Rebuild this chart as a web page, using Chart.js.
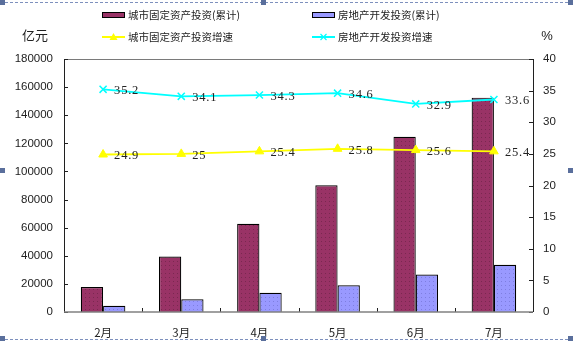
<!DOCTYPE html>
<html>
<head>
<meta charset="utf-8">
<script src="https://cdn.jsdelivr.net/npm/chart.js@4"></script>
<style>
  html, body { margin: 0; padding: 0; background: #ffffff; }
  #wrap { position: relative; width: 573px; height: 341px; }
  canvas { display: block; }
</style>
</head>
<body>
<div id="wrap"><canvas id="c" width="573" height="341"></canvas></div>
<script>
// 月份
const months = ['2月', '3月', '4月', '5月', '6月', '7月'];
// 累计投资额（亿元）
const cityInvest = [17800, 39500, 62700, 90200, 124700, 152500];
const estateInvest = [4500, 9000, 13700, 19000, 26600, 33600];
// 同比增速（%）
const cityGrowth = [24.9, 25, 25.4, 25.8, 25.6, 25.4];
const estateGrowth = [35.2, 34.1, 34.3, 34.6, 32.9, 33.6];
// 坐标轴刻度
const leftTicks = [0, 20000, 40000, 60000, 80000, 100000, 120000, 140000, 160000, 180000];
const rightTicks = [0, 5, 10, 15, 20, 25, 30, 35, 40];

const seriesNames = ['城市固定资产投资(累计)', '房地产开发投资(累计)', '城市固定资产投资增速', '房地产开发投资增速'];

// 带细点的柱体填充
function dotted(base, dot) {
  const p = document.createElement('canvas');
  p.width = 4; p.height = 4;
  const g = p.getContext('2d');
  g.fillStyle = base; g.fillRect(0, 0, 4, 4);
  g.fillStyle = dot; g.fillRect(1, 1, 1, 1);
  return g.createPattern(p, 'repeat');
}

const ctx0 = document.getElementById('c').getContext('2d');
const maroon = dotted('#993366', '#7a2850');
const lilac = dotted('#9999ff', '#7e7ee0');

const CJK = '"Noto Sans CJK SC", "Noto Sans", sans-serif';
const NUM = '"Liberation Sans", Arial, sans-serif';

// 图例、坐标框、内刻度、数据标签
const decor = {
  id: 'decor',
  beforeDatasetsDraw(chart) {
    const { ctx, chartArea: a } = chart;
    ctx.save();
    ctx.lineWidth = 1;
    ctx.strokeStyle = '#7a7a7a';
    ctx.beginPath();
    ctx.moveTo(a.left, a.top + 0.5); ctx.lineTo(a.right, a.top + 0.5);
    ctx.stroke();
    ctx.strokeStyle = '#202020';
    ctx.beginPath();
    ctx.moveTo(a.left + 0.5, a.top); ctx.lineTo(a.left + 0.5, a.bottom);
    ctx.moveTo(a.right + 0.5, a.top); ctx.lineTo(a.right + 0.5, a.bottom);
    ctx.stroke();
    // 内侧刻度
    const yl = chart.scales.y, yr = chart.scales.y1;
    ctx.beginPath();
    leftTicks.forEach(v => {
      const y = Math.round(yl.getPixelForValue(v)) + 0.5;
      ctx.moveTo(a.left, y); ctx.lineTo(a.left + 4, y);
    });
    rightTicks.forEach(v => {
      const y = Math.round(yr.getPixelForValue(v)) + 0.5;
      ctx.moveTo(a.right - 4, y); ctx.lineTo(a.right, y);
    });
    const n = months.length;
    for (let i = 1; i < n; i++) {
      const x = Math.round(a.left + i * (a.right - a.left) / n) + 0.5;
      ctx.moveTo(x, a.bottom); ctx.lineTo(x, a.bottom - 4);
    }
    ctx.stroke();
    ctx.restore();
  },
  afterDatasetsDraw(chart) {
    const { ctx, chartArea: a } = chart;
    ctx.save();
    ctx.strokeStyle = '#808080';
    ctx.lineWidth = 1.5;
    ctx.beginPath();
    ctx.moveTo(a.left, a.bottom); ctx.lineTo(a.right, a.bottom);
    ctx.stroke();
    // 数据标签
    ctx.fillStyle = '#222';
    ctx.font = '12.5px "Liberation Serif", "DejaVu Serif", serif';
    ctx.letterSpacing = '0.8px';
    ctx.textBaseline = 'middle';
    ctx.textAlign = 'left';
    chart.data.datasets.forEach((ds, di) => {
      if (ds.type !== 'line') return;
      const meta = chart.getDatasetMeta(di);
      meta.data.forEach((pt, i) => {
        ctx.fillText(String(ds.data[i]), pt.x + 11, pt.y + 1.5);
      });
    });
    ctx.restore();
  },
  afterDraw(chart) {
    const { ctx } = chart;
    const ds = chart.data.datasets;
    ctx.save();
    // 图例
    const cols = [102, 312];
    const rows = [15, 37];
    ds.forEach((d, i) => {
      const x = cols[i % 2], y = rows[Math.floor(i / 2)];
      if (d.type === 'bar') {
        ctx.fillStyle = d.legendColor;
        ctx.fillRect(x, y - 3, 23, 6);
        ctx.strokeStyle = '#000';
        ctx.lineWidth = 1;
        ctx.strokeRect(x + 0.5, y - 2.5, 22, 5);
      } else {
        ctx.strokeStyle = d.borderColor;
        ctx.lineWidth = 2;
        ctx.beginPath(); ctx.moveTo(x, y); ctx.lineTo(x + 23, y); ctx.stroke();
        const cx = x + 11.5;
        if (d.pointStyle === 'triangle') {
          ctx.fillStyle = d.borderColor;
          ctx.beginPath();
          ctx.moveTo(cx, y - 4); ctx.lineTo(cx + 4, y + 3); ctx.lineTo(cx - 4, y + 3);
          ctx.closePath(); ctx.fill();
        } else {
          ctx.lineWidth = 1.2;
          ctx.beginPath();
          ctx.moveTo(cx - 3, y - 3); ctx.lineTo(cx + 3, y + 3);
          ctx.moveTo(cx + 3, y - 3); ctx.lineTo(cx - 3, y + 3);
          ctx.stroke();
        }
      }
      ctx.fillStyle = '#222';
      ctx.font = '10.5px ' + CJK;
      ctx.textBaseline = 'middle';
      ctx.textAlign = 'left';
      ctx.fillText(d.label, x + 26, y + 0.5);
    });
    // 轴单位
    ctx.font = '13px ' + CJK;
    ctx.fillStyle = '#222';
    ctx.textAlign = 'center';
    ctx.fillText('亿元', 35, 35);
    ctx.font = '13px ' + NUM;
    ctx.fillText('%', 547, 36);
    // 选中框
    ctx.strokeStyle = '#7d90bd';
    ctx.lineWidth = 1;
    ctx.setLineDash([3, 2]);
    ctx.beginPath();
    ctx.moveTo(0, 2.5); ctx.lineTo(573, 2.5);
    ctx.moveTo(0, 339.5); ctx.lineTo(573, 339.5);
    ctx.stroke();
    ctx.setLineDash([]);
    ctx.fillStyle = '#5a6f9c';
    [[0, 0], [261, 0], [568, 0], [0, 168], [568, 168], [0, 336], [261, 336], [568, 336]].forEach(([x, y]) => {
      ctx.fillRect(x, y, 5, 5);
    });
    ctx.restore();
  }
};

new Chart(ctx0, {
  data: {
    labels: months,
    datasets: [
      { type: 'bar', label: seriesNames[0], data: cityInvest, yAxisID: 'y', order: 1,
        backgroundColor: maroon, legendColor: '#993366', borderColor: '#000', borderWidth: 1.2,
        categoryPercentage: 0.57, barPercentage: 1 },
      { type: 'bar', label: seriesNames[1], data: estateInvest, yAxisID: 'y', order: 1,
        backgroundColor: lilac, legendColor: '#9999ff', borderColor: '#000', borderWidth: 1.2,
        categoryPercentage: 0.57, barPercentage: 1 },
      { type: 'line', label: seriesNames[2], data: cityGrowth, yAxisID: 'y1', order: 0,
        borderColor: '#ffff00', backgroundColor: '#ffff00', borderWidth: 1.8,
        pointStyle: 'triangle', pointRadius: 5, pointBorderWidth: 1, tension: 0 },
      { type: 'line', label: seriesNames[3], data: estateGrowth, yAxisID: 'y1', order: 0,
        borderColor: '#00ffff', backgroundColor: '#00ffff', borderWidth: 1.8,
        pointStyle: 'crossRot', pointRadius: 5, pointBorderWidth: 1.5, tension: 0 }
    ]
  },
  options: {
    responsive: false,
    devicePixelRatio: 1,
    animation: false,
    layout: { padding: { top: 59, left: 0, right: 0, bottom: 0 } },
    plugins: { legend: { display: false }, tooltip: { enabled: false } },
    scales: {
      x: {
        grid: { display: false }, border: { display: false },
        ticks: { color: '#222', font: { family: CJK, size: 11.5 }, padding: 6 },
        afterFit(s) { s.height = 29; }
      },
      y: {
        position: 'left', min: 0, max: 180000,
        grid: { display: false, drawTicks: false }, border: { display: false },
        afterBuildTicks(s) { s.ticks = leftTicks.map(v => ({ value: v })); },
        ticks: { color: '#222', font: { family: NUM, size: 11.5 }, padding: 11,
                 callback: v => String(v) },
        afterFit(s) { s.width = 64; }
      },
      y1: {
        position: 'right', min: 0, max: 40,
        grid: { display: false, drawTicks: false }, border: { display: false },
        afterBuildTicks(s) { s.ticks = rightTicks.map(v => ({ value: v })); },
        ticks: { color: '#222', font: { family: NUM, size: 11.5 }, padding: 10,
                 callback: v => String(v) },
        afterFit(s) { s.width = 40; }
      }
    }
  },
  plugins: [decor]
});
</script>
</body>
</html>
